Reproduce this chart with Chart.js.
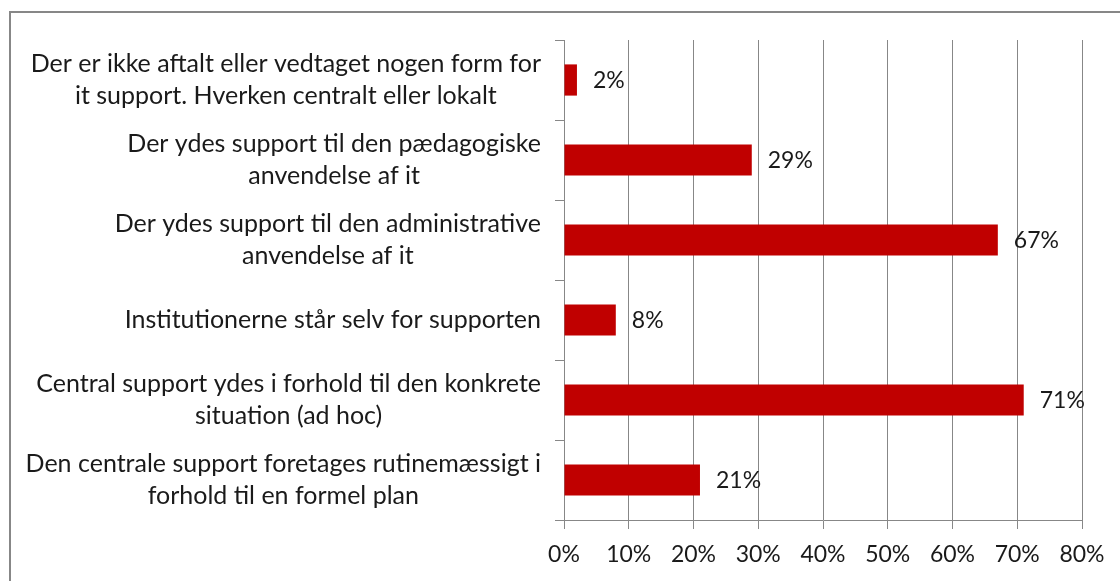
<!DOCTYPE html>
<html>
<head>
<meta charset="utf-8">
<script src="https://cdn.jsdelivr.net/npm/chart.js@4/dist/chart.umd.min.js"></script>
<style>
  body { margin: 0; background: #fff; }
  #frame { position: absolute; left: 9px; top: 11px; width: 1200px; height: 700px; border: 2px solid #878787; }
  #wrap { position: absolute; left: 0; top: 0; width: 1120px; height: 581px; }
</style>
</head>
<body>
<div id="frame"></div>
<div id="wrap"><canvas id="chart"></canvas></div>
<script>
// categories, top to bottom
const categories = [
  ["Der er ikke aftalt eller vedtaget nogen form for", "it support. Hverken centralt eller lokalt"],
  ["Der ydes support til den pædagogiske", "anvendelse af it"],
  ["Der ydes support til den administrative", "anvendelse af it"],
  ["Institutionerne står selv for supporten"],
  ["Central support ydes i forhold til den konkrete", "situation (ad hoc)"],
  ["Den centrale support foretages rutinemæssigt i", "forhold til en formel plan"]
];
const shares = [2, 29, 67, 8, 71, 21];
const xMin = 0, xMax = 80, xStep = 10;

const FONT = "Lato";
const LABEL_SIZE = 25;
const NUM_SIZE = 23;
const TEXT = "#1a1a1a";
const GRID = "#878787";

// category labels: block right-aligned to the axis, lines centred within the block
const catLabels = {
  id: "catLabels",
  afterDraw(chart) {
    const ctx = chart.ctx, y = chart.scales.y;
    const right = 541, lh = 32;
    ctx.save();
    ctx.font = LABEL_SIZE + "px " + FONT;
    ctx.fillStyle = TEXT;
    ctx.textAlign = "center";
    ctx.textBaseline = "middle";
    categories.forEach((lines, i) => {
      const cy = y.getPixelForValue(i);
      const w = Math.max(...lines.map(l => ctx.measureText(l).width));
      const cx = right - w / 2;
      lines.forEach((l, j) => {
        ctx.fillText(l, cx, cy + (j - (lines.length - 1) / 2) * lh);
      });
    });
    ctx.restore();
  }
};

// value labels right of each bar
const valueLabels = {
  id: "valueLabels",
  afterDatasetsDraw(chart) {
    const ctx = chart.ctx;
    ctx.save();
    ctx.font = NUM_SIZE + "px " + FONT;
    ctx.fillStyle = TEXT;
    ctx.textAlign = "left";
    ctx.textBaseline = "middle";
    chart.getDatasetMeta(0).data.forEach((bar, i) => {
      ctx.fillText(shares[i] + "%", bar.x + 16, bar.y + 1);
    });
    ctx.restore();
  }
};

new Chart(document.getElementById("chart"), {
  type: "bar",
  data: {
    labels: categories,
    datasets: [{
      data: shares,
      backgroundColor: "#c00000",
      borderWidth: 0,
      barPercentage: 0.39,
      categoryPercentage: 1
    }]
  },
  options: {
    indexAxis: "y",
    responsive: true,
    maintainAspectRatio: false,
    animation: false,
    layout: { padding: { top: 40, right: 38, bottom: 0, left: 0 } },
    plugins: { legend: { display: false }, tooltip: { enabled: false } },
    scales: {
      x: {
        min: xMin,
        max: xMax,
        ticks: {
          stepSize: xStep,
          callback: v => v + "%",
          color: TEXT,
          font: { family: FONT, size: NUM_SIZE },
          padding: 12
        },
        grid: { color: GRID, tickLength: 9, tickColor: GRID },
        border: { color: GRID },
        afterFit: s => { s.height = 61; }
      },
      y: {
        ticks: { display: false },
        grid: { drawOnChartArea: false, offset: true, tickLength: 9, color: GRID },
        border: { color: GRID },
        afterFit: s => { s.width = 564; }
      }
    }
  },
  plugins: [catLabels, valueLabels]
});
</script>
</body>
</html>
